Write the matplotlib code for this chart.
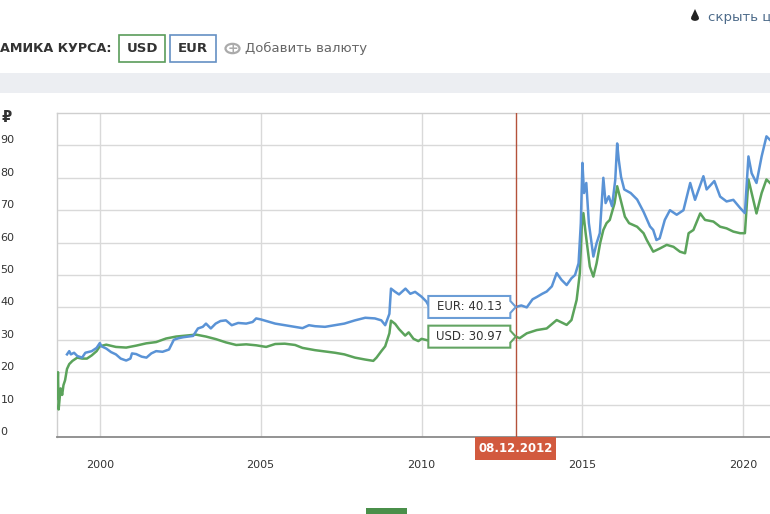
import matplotlib
matplotlib.use("Agg")
import matplotlib.pyplot as plt
from matplotlib import transforms
from matplotlib.patches import Polygon, Rectangle, Circle

# ---------------- data (decimal years) ----------------
usd_dates = [1998.64, 1998.67, 1998.70, 1998.72, 1998.78, 1998.83, 1998.87, 1998.92, 1998.98,
             1999.05, 1999.15, 1999.30, 1999.45, 1999.60, 1999.75, 1999.90, 2000.00, 2000.20,
             2000.50, 2000.82, 2001.13, 2001.44, 2001.75, 2002.06, 2002.37, 2002.68, 2002.99,
             2003.30, 2003.61, 2003.92, 2004.24, 2004.55, 2004.86, 2005.17, 2005.45, 2005.75,
             2006.07, 2006.30, 2006.69, 2007.00, 2007.31, 2007.60, 2007.93, 2008.25, 2008.50,
             2008.60, 2008.75, 2008.87, 2009.00, 2009.05, 2009.18, 2009.30, 2009.49, 2009.60,
             2009.75, 2009.90, 2010.00, 2010.20, 2010.50, 2010.80, 2011.20, 2011.60, 2011.80,
             2012.20, 2012.40, 2012.70, 2012.93, 2013.05, 2013.27, 2013.58, 2013.89, 2014.20,
             2014.51, 2014.66, 2014.82, 2014.92, 2014.98, 2015.03, 2015.10, 2015.23, 2015.34,
             2015.44, 2015.55, 2015.65, 2015.75, 2015.85, 2016.00, 2016.08, 2016.16, 2016.32,
             2016.45, 2016.70, 2016.90, 2017.00, 2017.20, 2017.41, 2017.62, 2017.83, 2018.03,
             2018.19, 2018.30, 2018.45, 2018.66, 2018.81, 2019.07, 2019.28, 2019.48, 2019.69,
             2019.90, 2020.05, 2020.16, 2020.26, 2020.41, 2020.57, 2020.72, 2020.83]
usd_vals = [19.5, 12.0, 20.0, 8.5, 15.0, 13.0, 16.0, 17.5, 21.0,
            22.5, 23.5, 24.5, 24.2, 24.2, 25.2, 26.5, 28.0, 28.5,
            27.8, 27.6, 28.2, 28.9, 29.3, 30.4, 31.0, 31.3, 31.6,
            31.0, 30.2, 29.2, 28.4, 28.6, 28.3, 27.8, 28.7, 28.8,
            28.4, 27.5, 26.8, 26.4, 26.0, 25.5, 24.5, 23.9, 23.5,
            24.5, 26.5, 28.0, 32.0, 35.9, 34.9, 33.3, 31.3, 32.3,
            30.3, 29.6, 30.3, 29.8, 31.0, 30.5, 28.5, 28.0, 31.5,
            29.5, 32.5, 31.5, 30.97, 30.5, 32.0, 33.0, 33.5, 36.1,
            34.6, 36.1, 42.3, 50.6, 65.0, 69.1, 62.9, 52.6, 49.5,
            53.6, 59.8, 63.9, 66.0, 67.0, 72.2, 77.4, 74.3, 68.0,
            66.0, 64.9, 62.9, 60.8, 57.2, 58.2, 59.3, 58.7, 57.2,
            56.7, 62.9, 63.9, 69.0, 67.0, 66.5, 64.9, 64.4, 63.4,
            62.9, 62.9, 79.5, 75.3, 69.0, 75.3, 79.5, 78.4]

eur_dates = [1998.98, 1999.05, 1999.10, 1999.20, 1999.30, 1999.45, 1999.55, 1999.75, 1999.90,
             2000.00, 2000.05, 2000.20, 2000.35, 2000.50, 2000.65, 2000.82, 2000.95, 2001.00,
             2001.13, 2001.30, 2001.45, 2001.60, 2001.75, 2001.95, 2002.15, 2002.30, 2002.45,
             2002.60, 2002.75, 2002.90, 2003.05, 2003.20, 2003.30, 2003.45, 2003.60, 2003.75,
             2003.92, 2004.10, 2004.30, 2004.55, 2004.75, 2004.86, 2005.00, 2005.17, 2005.45,
             2005.75, 2006.07, 2006.30, 2006.50, 2006.69, 2007.00, 2007.31, 2007.60, 2007.93,
             2008.25, 2008.55, 2008.75, 2008.87, 2009.00, 2009.05, 2009.18, 2009.30, 2009.50,
             2009.65, 2009.80, 2010.00, 2010.15, 2010.25, 2010.50, 2010.80, 2011.20, 2011.60,
             2012.00, 2012.40, 2012.70, 2012.93, 2013.10, 2013.27, 2013.45, 2013.58, 2013.75,
             2013.89, 2014.05, 2014.20, 2014.35, 2014.51, 2014.66, 2014.77, 2014.88, 2014.95,
             2015.00, 2015.05, 2015.12, 2015.20, 2015.34, 2015.44, 2015.54, 2015.65, 2015.72,
             2015.82, 2015.92, 2016.02, 2016.08, 2016.13, 2016.20, 2016.30, 2016.50, 2016.70,
             2016.90, 2017.10, 2017.20, 2017.30, 2017.40, 2017.56, 2017.72, 2017.93, 2018.14,
             2018.35, 2018.50, 2018.76, 2018.86, 2019.10, 2019.28, 2019.48, 2019.69, 2019.90,
             2020.05, 2020.16, 2020.26, 2020.41, 2020.57, 2020.72, 2020.83]
eur_vals = [25.5, 26.5, 25.5, 26.0, 25.0, 24.5, 26.0, 26.5, 27.5,
            29.0, 28.0, 27.3, 26.2, 25.5, 24.2, 23.6, 24.2, 25.8,
            25.6, 24.8, 24.5, 25.8, 26.5, 26.3, 27.0, 30.0, 30.5,
            30.8, 31.0, 31.2, 33.5, 34.0, 35.0, 33.5, 35.0, 35.8,
            36.0, 34.5, 35.2, 35.0, 35.5, 36.6, 36.3, 35.8, 35.0,
            34.5, 34.0, 33.6, 34.5, 34.2, 34.0, 34.5, 35.0, 36.0,
            36.8, 36.6, 36.0, 34.5, 38.0, 45.8, 44.8, 44.0, 45.8,
            44.2, 44.8, 43.3, 41.8, 40.0, 38.5, 41.0, 40.0, 41.0,
            41.0, 39.5, 40.5, 40.13, 40.6, 40.0, 42.5, 43.2, 44.2,
            44.9, 46.5, 50.6, 48.5, 46.9, 49.0, 50.0, 53.6, 66.0,
            84.6, 75.3, 78.4, 66.0, 55.7, 59.8, 62.9, 80.0, 72.2,
            74.3, 71.2, 79.3, 90.6, 85.5, 80.3, 76.4, 75.3, 73.3,
            69.5, 65.0, 63.9, 60.8, 61.3, 67.0, 70.0, 68.6, 70.0,
            78.4, 73.2, 80.5, 76.4, 79.0, 74.2, 72.7, 73.2, 70.7,
            69.1, 86.6, 81.4, 78.4, 86.6, 92.8, 91.7]

year_ticks = [2000, 2005, 2010, 2015, 2020]
year_labels = ["2000", "2005", "2010", "2015", "2020"]
y_ticks = [0, 10, 20, 30, 40, 50, 60, 70, 80, 90]
sel_date = 2012.93
sel_label = "08.12.2012"
sel_eur = 40.13
sel_usd = 30.97

# ---------------- figure ----------------
W, H = 770, 514
fig = plt.figure(figsize=(W / 100, H / 100), dpi=100)
fig.patch.set_facecolor("white")

def fx(x):
    return x / W

def fy(y):
    return 1 - y / H

TXT = "#333333"
BLUE = "#5a93d6"
GREEN = "#5ba35b"

# axes: left 56.7px, top 113px, bottom 437px, right = figure edge
ax = fig.add_axes([fx(56.7), fy(437), fx(770 - 56.7), (437 - 113) / H])
ax.set_xlim(1998.66, 2020.83)
ax.set_ylim(0, 100)

ax.plot(usd_dates, usd_vals, color=GREEN, lw=1.8, solid_joinstyle="round", zorder=3)
ax.plot(eur_dates, eur_vals, color=BLUE, lw=1.8, solid_joinstyle="round", zorder=3)

ax.set_xticks(year_ticks)
ax.set_xticklabels(year_labels, fontsize=8, color=TXT)
ax.set_yticks(y_ticks[1:])
ax.set_yticklabels([])
ax.tick_params(axis="both", length=0)
ax.tick_params(axis="x", pad=16.3)
ax.grid(True, color="#d9d9d9", lw=1)
ax.set_axisbelow(True)
for s in ["top", "left"]:
    ax.spines[s].set_color("#cfcfcf")
    ax.spines[s].set_linewidth(1)
ax.spines["right"].set_visible(False)
ax.spines["bottom"].set_color("#8a8a8a")
ax.spines["bottom"].set_linewidth(1.3)

# y labels, left aligned at figure edge
ytr = transforms.blended_transform_factory(fig.transFigure, ax.transData) + \
    transforms.ScaledTranslation(0, 2 / 100, fig.dpi_scale_trans)
for v in y_ticks:
    ax.text(0.5 / W, v, str(v), transform=ytr, ha="left", va="baseline",
            fontsize=8, color=TXT, clip_on=False)
fig.text(fx(1.5), fy(117), "₽", ha="left", va="center", fontsize=10.5,
         fontweight="bold", color=TXT, family=["DejaVu Sans", "Noto Sans"])

# selection line
ax.axvline(sel_date, color="#b4523b", lw=1, zorder=4)

fig.canvas.draw()
# date label under axis
px_line = ax.transData.transform((sel_date, 0))[0]
fig.add_artist(Rectangle((fx(px_line - 40.5), fy(460)), 81 / W, 23 / H,
                         transform=fig.transFigure, facecolor="#d25a3e",
                         edgecolor="none", zorder=5))
fig.text(fx(px_line), fy(448.5), sel_label, ha="center", va="center", fontsize=8.5,
         fontweight="bold", color="white", zorder=6)

# tooltips
def tooltip(val, name, color):
    tx, ty = ax.transData.transform((sel_date, val))
    ty_top = H - ty
    r = tx - 5.5
    l = tx - 87.5
    hh = 11
    pts = [(l, ty_top - hh), (r, ty_top - hh), (r, ty_top - 6), (tx, ty_top),
           (r, ty_top + 6), (r, ty_top + hh), (l, ty_top + hh)]
    poly = Polygon([(fx(a), fy(b)) for a, b in pts], closed=True,
                   transform=fig.transFigure, facecolor="white",
                   edgecolor=color, lw=1.5, zorder=7)
    fig.add_artist(poly)
    fig.text(fx((l + r) / 2), fy(ty_top), f"{name}: {val:.2f}", ha="center",
             va="center", fontsize=8.5, color=TXT, zorder=8)

tooltip(sel_eur, "EUR", "#6b9dd6")
tooltip(sel_usd, "USD", "#63a463")

# ---------------- header decorations ----------------
fig.add_artist(Rectangle((0, fy(92.7)), 1, 20 / H, transform=fig.transFigure,
                         facecolor="#eceef2", edgecolor="none"))
fig.text(fx(-0.5), fy(49), "АМИКА КУРСА:", ha="left", va="center", fontsize=9.2,
         fontweight="bold", color=TXT)
for x0, x1, lab, col in [(119, 165, "USD", "#5a9c5a"), (170.3, 215.7, "EUR", "#6590c4")]:
    fig.add_artist(Rectangle((fx(x0), fy(62.3)), (x1 - x0) / W, 27.3 / H,
                             transform=fig.transFigure, facecolor="white",
                             edgecolor=col, lw=1.2))
    fig.text(fx((x0 + x1) / 2), fy(49), lab, ha="center", va="center",
             fontsize=9.5, fontweight="bold", color=TXT)
fig.add_artist(Circle((fx(232.5), fy(48.5)), 7 / W, transform=fig.transFigure,
                      facecolor="none", edgecolor="#aaaaaa", lw=1.6))
fig.text(fx(232.5), fy(48.5), "+", ha="center", va="center", fontsize=9,
         fontweight="bold", color="#aaaaaa")
fig.text(fx(245), fy(48.5), "Добавить валюту", ha="left", va="center",
         fontsize=9.5, color="#666666")
# drop icon
fig.add_artist(Polygon([(fx(695), fy(9)), (fx(691.3), fy(17)), (fx(698.7), fy(17))],
                       closed=True, transform=fig.transFigure,
                       facecolor="#222222", edgecolor="none"))
fig.add_artist(Circle((fx(695), fy(18.2)), 4.0 / W, transform=fig.transFigure,
                      facecolor="#222222", edgecolor="none"))
fig.text(fx(708), fy(17), "скрыть цены", ha="left", va="center", fontsize=9.5,
         color="#4d6b8a")

# bottom green bar
fig.add_artist(Rectangle((fx(366), 0), 41 / W, 6 / H, transform=fig.transFigure,
                         facecolor="#4a8f4a", edgecolor="none"))

fig.savefig("out.png", dpi=100)
